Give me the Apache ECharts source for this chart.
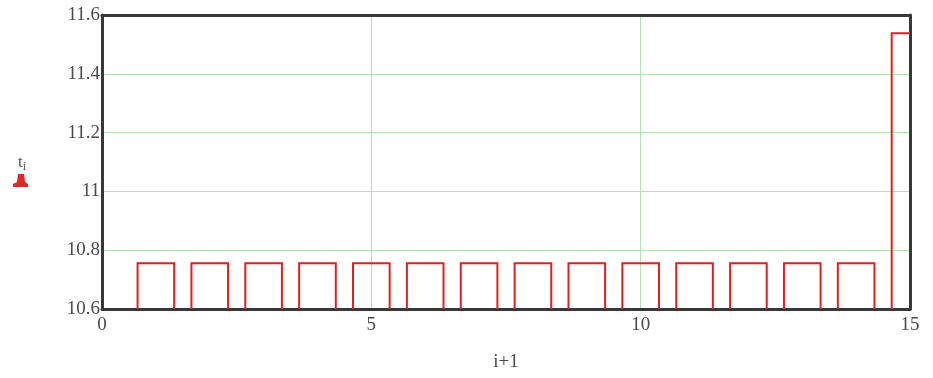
<!DOCTYPE html>
<html>
<head>
<meta charset="utf-8">
<script src="https://cdn.jsdelivr.net/npm/echarts@6/dist/echarts.min.js"></script>
<style>html,body{margin:0;padding:0;background:#fff;}#c{width:933px;height:378px;}</style>
</head>
<body>
<div id="c"></div>
<script>
// Data
const xValues = [1, 2, 3, 4, 5, 6, 7, 8, 9, 10, 11, 12, 13, 14, 15];
const tValues = [10.756, 10.756, 10.756, 10.756, 10.756, 10.756, 10.756, 10.756, 10.756, 10.756, 10.756, 10.756, 10.756, 10.756, 11.538];
const xTicks = [0, 5, 10, 15];
const yTicks = [10.6, 10.8, 11, 11.2, 11.4, 11.6];

const yMin = 10.6, yMax = 11.6;
const halfW = 0.34;
const labelFont = 'Liberation Serif';

const chart = echarts.init(document.getElementById('c'));
chart.setOption({
  animation: false,
  backgroundColor: '#fff',
  grid: { left: 102, right: 23, top: 15, bottom: 69, show: false },
  xAxis: [{
    type: 'value', min: 0, max: 15, interval: 5,
    name: 'i+1', nameLocation: 'middle', nameGap: 44,
    nameTextStyle: { fontFamily: labelFont, fontSize: 19, color: '#4a4a4a' },
    axisLine: { show: true, onZero: false, lineStyle: { color: '#383838', width: 3 } },
    axisTick: { show: false },
    axisLabel: { fontFamily: labelFont, fontSize: 19, color: '#4a4a4a', margin: 7 },
    splitLine: { show: true, showMinLine: false, showMaxLine: false, lineStyle: { color: '#b0e4b0', width: 1 } }
  }, {
    type: 'value', min: 0, max: 15, position: 'top',
    axisLine: { show: true, onZero: false, lineStyle: { color: '#383838', width: 3 } },
    axisTick: { show: false }, axisLabel: { show: false }, splitLine: { show: false }
  }],
  yAxis: [{
    type: 'value', min: yMin, max: yMax, interval: 0.2,
    axisLine: { show: true, onZero: false, lineStyle: { color: '#383838', width: 3 } },
    axisTick: { show: false },
    axisLabel: { fontFamily: labelFont, fontSize: 19, color: '#4a4a4a', margin: 2 },
    splitLine: { show: true, showMinLine: false, showMaxLine: false, lineStyle: { color: '#b0e4b0', width: 1 } }
  }, {
    type: 'value', min: yMin, max: yMax, position: 'right',
    axisLine: { show: true, onZero: false, lineStyle: { color: '#383838', width: 3 } },
    axisTick: { show: false }, axisLabel: { show: false }, splitLine: { show: false }
  }],
  graphic: [
    { type: 'text', left: 18, top: 154, style: { text: '{a|t}{b|i}', rich: {
        a: { fontFamily: labelFont, fontSize: 17, fill: '#555' },
        b: { fontFamily: labelFont, fontSize: 12, fill: '#555', padding: [9, 0, 0, 0] } } } },
    { type: 'polygon', shape: { points: [[18, 174], [24, 174], [25, 182], [28, 184], [28, 187], [13, 187], [13, 184], [17, 182]] }, style: { fill: '#e02828' } }
  ],
  series: [{
    type: 'custom',
    clip: true,
    data: xValues.map((x, i) => [x, tValues[i]]),
    renderItem: function (params, api) {
      const x = api.value(0), v = api.value(1);
      const a = api.coord([x - halfW, yMin]);
      const b = api.coord([x - halfW, v]);
      const c = api.coord([x + halfW, v]);
      const d = api.coord([x + halfW, yMin]);
      return {
        type: 'polyline',
        shape: { points: [a, b, c, d] },
        style: { stroke: '#e02020', lineWidth: 2, fill: null }
      };
    }
  }]
});
</script>
</body>
</html>
